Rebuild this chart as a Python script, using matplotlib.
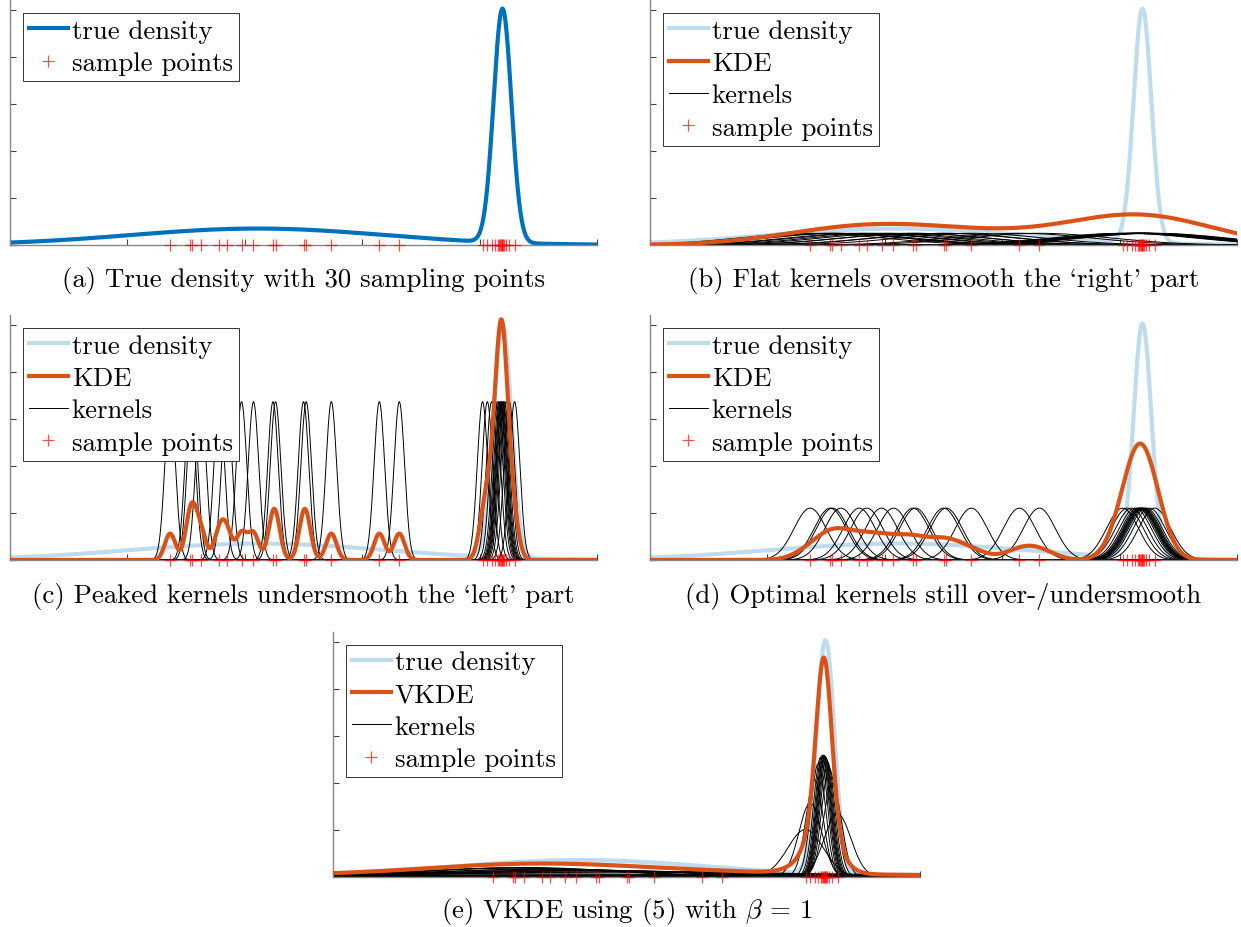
import numpy as np
import matplotlib.pyplot as plt

plt.rcParams['font.family'] = ['cmr10', 'DejaVu Serif']
plt.rcParams['mathtext.fontset'] = 'cm'
plt.rcParams['axes.formatter.use_mathtext'] = True

# sample positions (x axis spans 0..5)
left_points = [1.364, 1.535, 1.554, 1.626, 1.782, 1.847, 1.972, 2.074,
               2.240, 2.262, 2.500, 2.523, 2.737, 3.146, 3.316]
right_points = [4.025, 4.066, 4.102, 4.133, 4.153, 4.165, 4.174, 4.181,
                4.187, 4.194, 4.202, 4.212, 4.227, 4.253, 4.298]

# true density = mixture of two gaussians
true_weights = [0.5, 0.5]
true_means = [2.11, 4.195]
true_stds = [1.08, 0.076]

# bandwidths per panel
h_flat = 0.607
h_peaked = 0.0449
h_optimal = 0.137
vkde_c = 0.1
beta = 1
kernel_scale = 0.2   # kernels are drawn at K/5

captions = [
    '(a) True density with 30 sampling points',
    "(b) Flat kernels oversmooth the `right' part",
    "(c) Peaked kernels undersmooth the `left' part",
    '(d) Optimal kernels still over-/undersmooth',
    r'(e) VKDE using (5) with $\beta$ = 1',
]

BLUE = '#0072BD'
LIGHT = '#BFDCEE'
ORANGE = '#D95319'

W, H = 1241, 928
y_step = 0.5275
y_top = 2.75
FS = 19.3

pts = np.array(left_points + right_points)
xs = np.linspace(0, 5, 2000)


def gauss(x, m, s):
    return np.exp(-0.5 * ((x - m) / s) ** 2) / (s * np.sqrt(2 * np.pi))


true_pdf = sum(w * gauss(xs, m, s) for w, m, s in zip(true_weights, true_means, true_stds))


def kde(x, h):
    h = np.broadcast_to(h, pts.shape)
    return sum(gauss(x, p, hh) for p, hh in zip(pts, h)) / len(pts)


def rect(x0, x1, ybot, ytop):
    return [x0 / W, 1 - ybot / H, (x1 - x0) / W, (ybot - ytop) / H]


def style(ax):
    ax.set_xlim(0, 5)
    ax.set_ylim(0, y_top)
    ax.set_xticks(range(6))
    ax.set_yticks(np.arange(6) * y_step)
    ax.set_xticklabels([])
    ax.set_yticklabels([])
    ax.tick_params(direction='in', length=4, width=0.8, colors='#444444')
    for s in ['top', 'right']:
        ax.spines[s].set_visible(False)
    for s in ['left', 'bottom']:
        ax.spines[s].set_color('#888888')
        ax.spines[s].set_linewidth(1.0)


def samples(ax):
    ax.plot(pts, np.zeros_like(pts), '+', color='red', alpha=0.7, ms=9, mew=0.9,
            clip_on=False, zorder=5, label='sample points')


def legend(ax):
    leg = ax.legend(loc='upper left', bbox_to_anchor=(13 / 587, 1 - 13 / 245),
                    borderaxespad=0, fontsize=FS, fancybox=False, framealpha=1,
                    edgecolor='#333333', handlelength=1.45, handletextpad=0.15,
                    labelspacing=0.32, borderpad=0.22)
    leg.get_frame().set_linewidth(0.7)


def draw_kernels(ax, h):
    h = np.broadcast_to(h, pts.shape)
    for i, (p, hh) in enumerate(zip(pts, h)):
        ax.plot(xs, kernel_scale * gauss(xs, p, hh), color='black', lw=0.7, zorder=2,
                label='kernels' if i == 0 else None)


fig = plt.figure(figsize=(W / 100, H / 100), dpi=100)

boxes = [
    rect(10, 597, 246, 1),
    rect(650, 1237, 246, 1),
    rect(10, 597, 561, 316),
    rect(650, 1237, 561, 316),
    rect(333, 920, 877.5, 632.5),
]
caption_y = [280, 280, 597, 597, 912]

# pilot estimate for the variable bandwidths
pilot = kde(pts, h_optimal)
h_var = vkde_c / pilot ** (2 * beta)

for k, box in enumerate(boxes):
    ax = fig.add_axes(box)
    style(ax)
    if k == 0:
        ax.plot(xs, true_pdf, color=BLUE, lw=3.0, zorder=1, label='true density')
    else:
        ax.plot(xs, true_pdf, color=LIGHT, lw=3.0, zorder=1, label='true density')
        h = [h_flat, h_peaked, h_optimal, h_var][k - 1]
        name = 'VKDE' if k == 4 else 'KDE'
        ax.plot(xs, kde(xs, h), color=ORANGE, lw=3.0, zorder=3, label=name)
        draw_kernels(ax, h)
    samples(ax)
    legend(ax)
    cx = (box[0] + box[2] / 2)
    fig.text(cx, 1 - caption_y[k] / H, captions[k], ha='center', va='center', fontsize=FS)

fig.savefig('out.png', dpi=100)
